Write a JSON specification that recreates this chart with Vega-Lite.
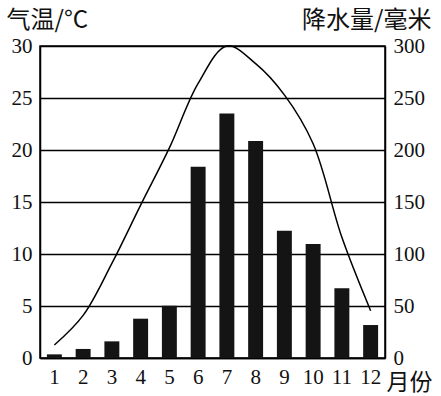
{
  "$schema": "https://vega.github.io/schema/vega-lite/v6.json",
  "width": 345,
  "height": 312,
  "autosize": {"type": "none"},
  "padding": {"left": 40, "top": 46, "right": 56, "bottom": 38},
  "background": "white",
  "config": {
    "view": {"stroke": "black", "strokeWidth": 1.5},
    "font": "Liberation Serif",
    "axis": {"labelColor": "#111", "titleColor": "#111", "domainColor": "black", "gridColor": "black", "ticks": false}
  },
  "data": {
    "values": [
      {"month": "1", "temp": 1.25, "precip": 3.5},
      {"month": "2", "temp": 4.1, "precip": 8.7},
      {"month": "3", "temp": 9.1, "precip": 16},
      {"month": "4", "temp": 14.7, "precip": 37.8},
      {"month": "5", "temp": 20.2, "precip": 50.3},
      {"month": "6", "temp": 26.4, "precip": 184},
      {"month": "7", "temp": 30, "precip": 235},
      {"month": "8", "temp": 28.3, "precip": 208.7},
      {"month": "9", "temp": 25.3, "precip": 122.4},
      {"month": "10", "temp": 20.6, "precip": 109.6},
      {"month": "11", "temp": 11.6, "precip": 67},
      {"month": "12", "temp": 4.55, "precip": 31.7}
    ]
  },
  "encoding": {
    "x": {
      "field": "month", "type": "ordinal", "sort": null,
      "scale": {"paddingInner": 0.48, "paddingOuter": 0.24},
      "axis": {
        "labelAngle": 0, "labelFontSize": 21, "labelPadding": 8, "domain": true, "domainWidth": 1.5,
        "title": "月份", "titleFont": "Noto Sans CJK SC", "titleFontSize": 23, "titleFontWeight": "normal",
        "titleAlign": "left", "titleBaseline": "middle", "titleX": 346, "titleY": 24, "titleAngle": 0
      }
    }
  },
  "layer": [
    {
      "mark": {"type": "bar", "color": "#141414"},
      "encoding": {
        "y": {
          "field": "precip", "type": "quantitative",
          "scale": {"domain": [0, 300]},
          "axis": {
            "orient": "right", "values": [0, 50, 100, 150, 200, 250, 300], "grid": false,
            "labelFontSize": 21, "labelPadding": 8, "domainWidth": 1.5,
            "title": "降水量/毫米", "titleFont": "Noto Sans CJK SC", "titleFontSize": 24, "titleFontWeight": "normal",
            "titleAngle": 0, "titleAlign": "right", "titleBaseline": "middle", "titleX": 46, "titleY": -26
          }
        }
      }
    },
    {
      "mark": {"type": "line", "interpolate": "catmull-rom", "color": "black", "strokeWidth": 1.5},
      "encoding": {
        "y": {
          "field": "temp", "type": "quantitative",
          "scale": {"domain": [0, 30]},
          "axis": {
            "orient": "left", "values": [0, 5, 10, 15, 20, 25, 30], "grid": true, "gridWidth": 1.5,
            "labelFontSize": 21, "labelPadding": 8, "domainWidth": 1.5,
            "title": "气温/°C", "titleFont": "Noto Sans CJK SC", "titleFontSize": 24, "titleFontWeight": "normal",
            "titleAngle": 0, "titleAlign": "left", "titleBaseline": "middle", "titleX": -34, "titleY": -26
          }
        }
      }
    }
  ],
  "resolve": {"scale": {"y": "independent"}}
}
